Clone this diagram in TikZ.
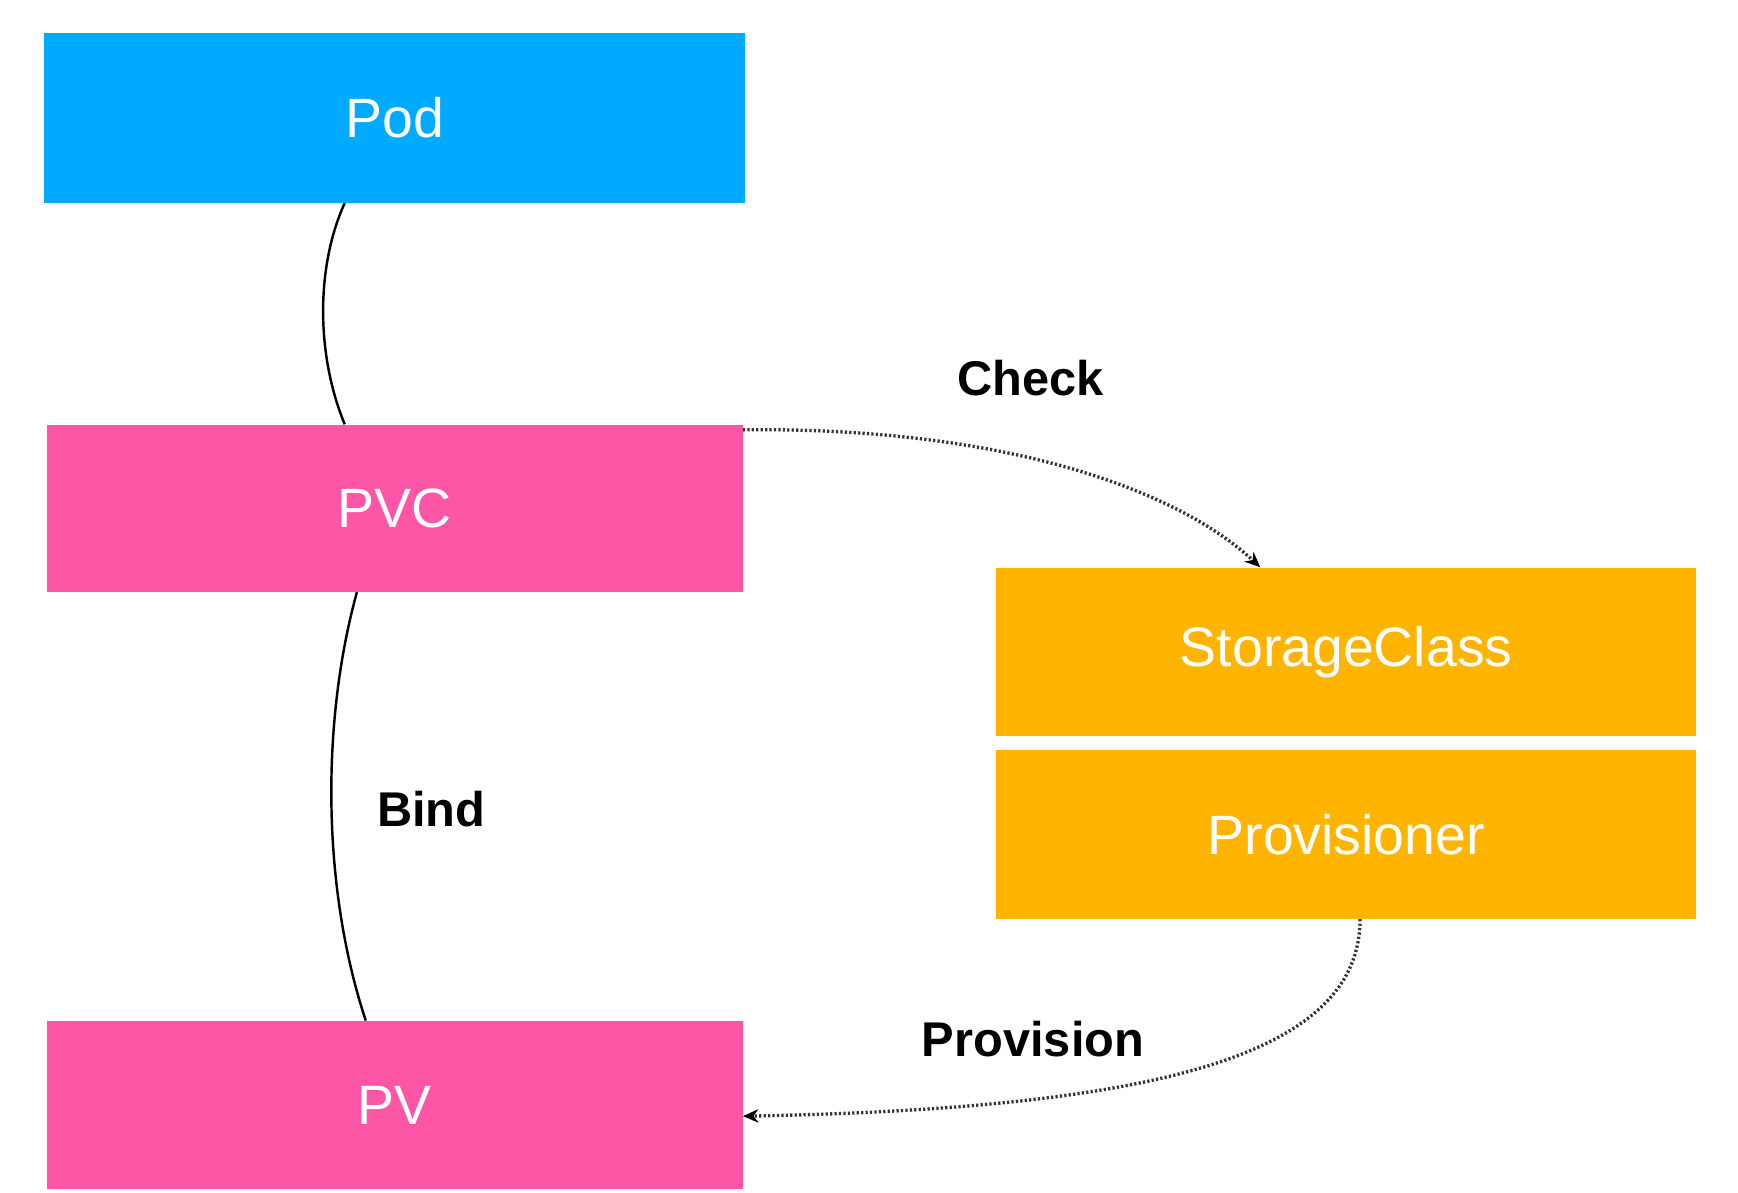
\documentclass[tikz,border=0pt]{standalone}
\usepackage{fontspec}
\setmainfont{Liberation Sans}
\usetikzlibrary{arrows.meta}
\definecolor{podblue}{RGB}{0,170,255}
\definecolor{pvpink}{RGB}{254,86,166}
\definecolor{scorange}{RGB}{255,180,0}
\tikzset{
  box/.style={rectangle, inner sep=0pt, minimum width=630pt, minimum height=152pt, text=white, font=\fontsize{50}{60}\selectfont},
  lbl/.style={font=\bfseries\fontsize{44}{52}\selectfont, text=black, inner sep=0pt},
  link/.style={draw=black, line width=2.2pt},
  dotlink/.style={draw=black!80, line width=3pt, dash pattern=on 2pt off 2pt, -{Stealth[length=14pt,width=12pt,black]}}
}
\begin{document}
\begin{tikzpicture}[x=1pt,y=-1pt]
\useasboundingbox (0,0) rectangle (1568,1076);
\node[box, fill=podblue, minimum width=632pt, minimum height=153pt] (pod) at (356,106.5) {Pod};
\node[box, fill=pvpink, minimum width=628pt, minimum height=151pt] (pvc) at (356,458.5) {PVC};
\node[box, fill=pvpink, minimum width=628pt] (pv) at (356,997) {PV};
\node[box, fill=scorange, minimum width=631pt] (sc) at (1214.5,588) {StorageClass};
\node[box, fill=scorange, minimum width=631pt] (prov) at (1214.5,753) {Provisioner};
\node[lbl] (check) at (930,341) {Check};
\node[lbl] (bind) at (389,730) {Bind};
\node[lbl] (provision) at (932,937) {Provision};
\draw[link] ([xshift=-45pt]pod.south) .. controls +(-26,57) and +(-26,-63) .. ([xshift=-45pt]pvc.north);
\draw[link] ([xshift=-34pt]pvc.south) .. controls +(-32,116) and +(-40,-121) .. ([xshift=-26pt]pv.north);
\draw[dotlink] ([yshift=-5pt]pvc.north east) .. controls +(230,-3) and +(-77,-72) .. ([xshift=-77.5pt]sc.north);
\draw[dotlink] ([xshift=12.5pt]prov.south) .. controls +(0,121) and +(380,-7) .. ([yshift=-10pt]pv.east);
\end{tikzpicture}
\end{document}
